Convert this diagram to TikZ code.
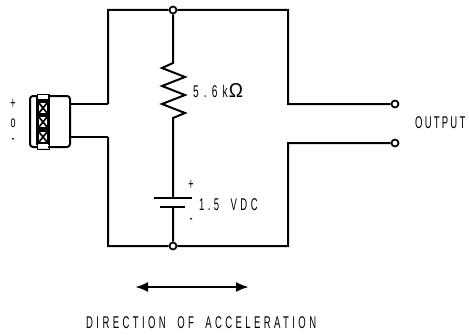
\documentclass[tikz,border=0pt]{standalone}
\usepackage{fontspec}
\newfontfamily\drawfont[FakeStretch=0.56,LetterSpace=20,WordSpace=1.9]{Liberation Sans}
\newfontfamily\outputfont[FakeStretch=0.56,LetterSpace=13]{Liberation Sans}
\newfontfamily\valuefont[FakeStretch=0.6,LetterSpace=30]{Liberation Sans}
\newfontfamily\ohmfont[FakeStretch=0.95]{Liberation Sans}
\usetikzlibrary{arrows.meta}
\def\thickness{2pt}
\def\tikzxscale{0.035146}
\def\tikzyscale{0.035146}
\tikzset{wire/.style={line width=\thickness, line join=miter}}
\tikzset{terminal/.style={circle, draw, fill=white, line width=1.7pt, minimum size=7pt, inner sep=0pt}}
\tikzset{label/.style={font=\drawfont\fontsize{17}{17}\selectfont, inner sep=0pt, anchor=west}}
\tikzset{pinlabel/.style={font=\drawfont\fontsize{16}{16}\selectfont, inner sep=0pt}}
\begin{document}
\begin{tikzpicture}[xscale=\tikzxscale, yscale=-\tikzyscale]

\useasboundingbox (0, 0) rectangle (469, 335);

\coordinate (topleft) at (108, 10);
\coordinate (topright) at (288, 10);
\coordinate (botleft) at (108, 246);
\coordinate (botright) at (288, 246);
\coordinate (inleft) at (108, 104);
\coordinate (inleftb) at (108, 137);
\coordinate (inright) at (288, 104);
\coordinate (inrightb) at (288, 143);
\coordinate (conna) at (70, 104);
\coordinate (connb) at (70, 137);
\coordinate (restop) at (173, 63);
\coordinate (resbot) at (173, 118);
\coordinate (battop) at (173, 198);
\coordinate (batbot) at (173, 207);
\coordinate (arrowl) at (135, 287);
\coordinate (arrowr) at (249, 287);

\node [terminal] (jtop) at (173, 10) {};
\node [terminal] (jbot) at (173, 246) {};
\node [terminal] (outa) at (395, 104) {};
\node [terminal] (outb) at (395, 143) {};

\draw [wire] (inleft) -- (topleft) -- (jtop) -- (topright) -- (inright) -- (outa);
\draw [wire] (inleftb) -- (botleft) -- (jbot) -- (botright) -- (inrightb) -- (outb);
\draw [wire] (conna) -- (inleft);
\draw [wire] (connb) -- (inleftb);
\draw [wire] (jtop) -- (restop) -- ++(-11, 5) -- ++(23, 9) -- ++(-23, 9) -- ++(23, 9) -- ++(-23, 9) -- ++(23, 9) -- (resbot) -- (battop);
\draw [wire] (batbot) -- (jbot);
\draw [wire] (154, 198) -- (192, 198);
\draw [wire] (160, 207) -- (185, 207);

\draw [wire, rounded corners=3pt] (38, 96) -- (70, 96) -- (70, 147) -- (38, 147);
\draw [wire, rounded corners=3pt] (38, 96) -- (30, 96) -- (30, 147) -- (38, 147);
\fill (36, 97) rectangle (50, 145);
\fill [white] (38, 95) rectangle (48, 99);
\fill [white] (38, 144) rectangle (48, 148);
\draw [line width=1pt] (37, 94) rectangle (49, 149);
\foreach \y in {108, 122, 137} {
  \fill [white] (39, \y-5) rectangle (47, \y+5);
  \draw [line width=1.7pt] (39, \y-5) -- (47, \y+5);
  \draw [line width=1.7pt] (39, \y+5) -- (47, \y-5);
}

\draw [line width=2.4pt, {Latex[length=13pt, width=10pt]}-{Latex[length=13pt, width=10pt]}] (arrowl) -- (arrowr);

\node [pinlabel] (plus) at (13, 104) {+};
\node [pinlabel] (zero) at (13, 123) {o};
\node [pinlabel] (minus) at (13, 141) {-};
\node [label] (res) at (193, 91) {\valuefont 5.6k\hspace{1pt}{\ohmfont\fontsize{20}{20}\selectfont Ω}};
\node [label] (bat) at (199, 205) {1.5 VDC};
\node [pinlabel] (batplus) at (191, 185) {+};
\node [pinlabel] (batminus) at (191, 221) {-};
\node [label] (output) at (415, 123) {\outputfont OUTPUT};
\node [label] (direction) at (86, 323) {DIRECTION OF ACCELERATION};

\end{tikzpicture}
\end{document}
